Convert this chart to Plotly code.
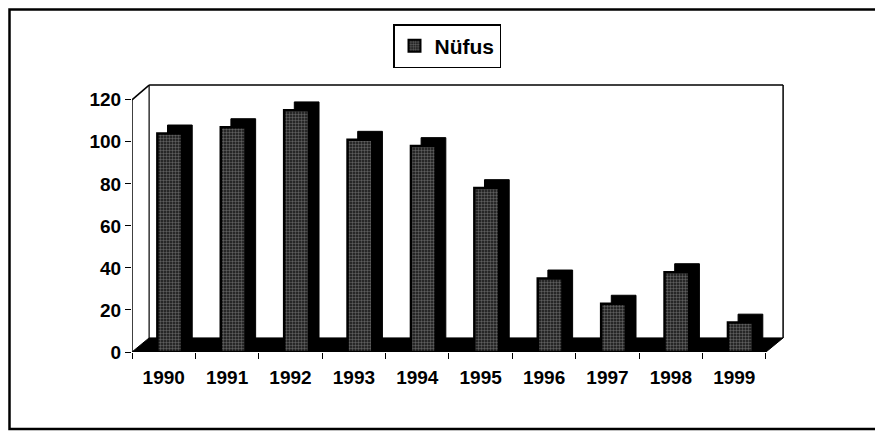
import plotly.graph_objects as go

years = ["1990", "1991", "1992", "1993", "1994", "1995", "1996", "1997", "1998", "1999"]
nufus = [104, 107, 115, 101, 98, 78, 35, 23, 38, 14]
y_ticks = [0, 20, 40, 60, 80, 100, 120]

# page body has an 8px margin; lay out in window px and shift
OFF = 8
W, H = 883 - OFF, 432 - OFF
L, R, T, B = 132 - OFF, 98, 83 - OFF, 80
pw, ph = W - L - R, H - T - B
def px_x(px):
    return (px - OFF - L) / pw
def px_y(py):
    return (H - B - (py - OFF)) / ph

bar_dx, bar_dy = 0.16, 4.0     # bar depth offset
wall_dx, wall_dy = 0.27, 6.7   # floor/wall depth offset

fig = go.Figure()

# depth (top + side) of the columns
fig.add_trace(go.Bar(
    x=years, y=nufus, base=bar_dy, width=0.39, offset=-0.1 + bar_dx,
    marker=dict(color="#000000", line=dict(color="#000000", width=1)),
    showlegend=False, hoverinfo="skip"))

# front face of the columns
fig.add_trace(go.Bar(
    x=years, y=nufus, width=0.39, offset=-0.1, name="Nüfus",
    marker=dict(color="#151515",
                line=dict(color="#000000", width=2.5),
                pattern=dict(shape=".", bgcolor="#151515", fgcolor="#a8a8a8",
                             size=3, solidity=0.5, fillmode="overlay"))))

n = len(years)
x_left, x_right = -0.5, n - 0.5
top = 127
shapes = [
    # floor slab
    dict(type="path", xref="x", yref="y", layer="below",
         path=f"M {x_left},0 L {x_right},0 L {x_right + wall_dx},{wall_dy} L {x_left + wall_dx},{wall_dy} Z",
         fillcolor="#000000", line=dict(color="#000000", width=1)),
    # back wall
    dict(type="line", xref="x", yref="y", x0=x_left + wall_dx, x1=x_left + wall_dx, y0=wall_dy, y1=top,
         line=dict(color="#000000", width=1.2), layer="below"),
    dict(type="line", xref="x", yref="y", x0=x_left + wall_dx, x1=x_right + wall_dx, y0=top, y1=top,
         line=dict(color="#000000", width=1.5), layer="below"),
    dict(type="line", xref="x", yref="y", x0=x_right + wall_dx, x1=x_right + wall_dx, y0=wall_dy, y1=top,
         line=dict(color="#000000", width=1.5), layer="below"),
    # front y-axis line and its diagonal
    dict(type="line", xref="x", yref="y", x0=x_left, x1=x_left, y0=0, y1=120,
         line=dict(color="#000000", width=1.5)),
    dict(type="line", xref="x", yref="y", x0=x_left, x1=x_left + wall_dx, y0=120, y1=top,
         line=dict(color="#000000", width=1.5)),
    # outer border (right edge falls outside the picture, as in the scan)
    dict(type="rect", xref="paper", yref="paper",
         x0=px_x(9.5), x1=px_x(895), y0=px_y(429), y1=px_y(9.5),
         line=dict(color="#000000", width=2.5)),
]

fig.update_layout(
    width=W, height=H,
    margin=dict(l=L, r=R, t=T, b=B),
    paper_bgcolor="white", plot_bgcolor="white",
    font=dict(family="Liberation Sans, Arial, sans-serif", color="#000000"),
    barmode="overlay",
    shapes=shapes,
    showlegend=True,
    legend=dict(x=px_x(393), y=px_y(24), xanchor="left", yanchor="top",
                bordercolor="#000000", borderwidth=1.5, bgcolor="white",
                font=dict(size=21, family="Liberation Sans, Arial, sans-serif", weight="bold"),
                itemsizing="constant"),
    xaxis=dict(type="category", range=[-0.5, n - 0.5 + 0.3],
               tickson="boundaries", ticks="outside", ticklen=6, tickcolor="#000000",
               ticklabelstandoff=12,
               showline=False, showgrid=False, zeroline=False,
               tickfont=dict(size=19, family="Liberation Sans, Arial, sans-serif", weight="bold")),
    yaxis=dict(range=[0, 128], tickvals=y_ticks, ticks="outside", ticklen=6, tickcolor="#000000",
               showline=False, showgrid=False, zeroline=False,
               tickfont=dict(size=19, family="Liberation Sans, Arial, sans-serif", weight="bold")),
)

fig.write_html("out.html")
